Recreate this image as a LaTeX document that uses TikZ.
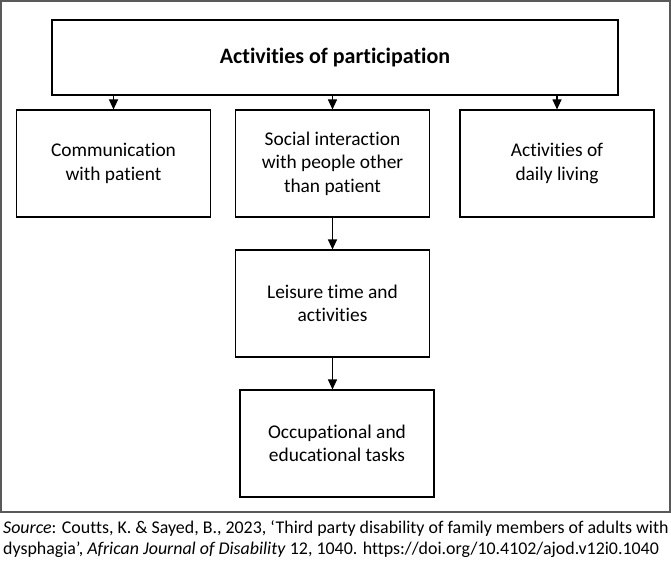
\documentclass[tikz,border=0pt]{standalone}
\usepackage{fontspec}
\setmainfont[Ligatures=NoCommon]{Carlito}
\usetikzlibrary{arrows.meta,positioning}

\begin{document}
\begin{tikzpicture}[x=1pt,y=-1pt,
      box/.style={draw,line width=1.1pt,align=center,inner sep=2pt,
                  minimum width=194pt,minimum height=107pt,
                  font=\fontsize{19.4}{23.5}\selectfont},
      arr/.style={-{Triangle[length=10pt,width=9pt]},line width=1.1pt}]
    \useasboundingbox (0,0) rectangle (671,561);
    \draw[line width=1.6pt,black!65] (1,1) rectangle (670,512);

    \node[box,minimum width=566pt,minimum height=75pt,
          font=\fontsize{22}{26}\selectfont\bfseries] (top) at (335,57.5)
      {Activities of participation};

    \node[box] (comm) at (113.5,163.5) {Communication\\with patient};
    \node[box] (social) at (332.5,163.5) {Social interaction\\with people other\\than patient};
    \node[box] (daily) at (557,163.5) {Activities of\\daily living};
    \draw[arr] (top.south -| comm.north) -- (comm.north);
    \draw[arr] (top.south -| social.north) -- (social.north);
    \draw[arr] (top.south -| daily.north) -- (daily.north);

    \node[box] (leisure) at (332.5,303.5) {Leisure time and\\activities};
    \node[box] (occup) at (337,443.5) {Occupational and\\educational tasks};
    \draw[arr] (social) -- (leisure);
    \draw[arr] (leisure.south) -- (leisure.south |- occup.north);

    \node[anchor=north west,align=left,inner sep=0pt,
          font=\fontsize{17.9}{21}\selectfont] (source) at (3,520)
      {\textit{Source}: Coutts, K. \& Sayed, B., 2023, ‘Third party disability of family members of adults with\\
       dysphagia’, \textit{African Journal of Disability} 12, 1040. https://doi.org/10.4102/ajod.v12i0.1040};
  \end{tikzpicture}
\end{document}
